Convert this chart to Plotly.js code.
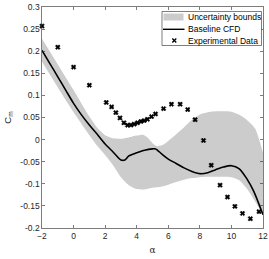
<!DOCTYPE html>
<html>
<head>
<meta charset="utf-8">
<script src="https://cdn.plot.ly/plotly-3.0.1.min.js"></script>
<style>html,body{margin:0;padding:0;background:#fff;}#chart{width:269px;height:259px;}</style>
</head>
<body>
<div id="chart"></div>
<script>
// Experimental data
const alphaExp = [-2, -1, 0, 1, 2.07, 2.41, 2.68, 2.94, 3.19, 3.42, 3.63, 3.84, 4.05, 4.27, 4.47, 4.68, 4.94, 5.19, 5.70, 6.20, 6.75, 7.23, 7.70, 8.23, 8.72, 9.28, 9.75, 10.22, 10.70, 11.20, 11.75];
const cmExp = [0.257, 0.209, 0.164, 0.123, 0.084, 0.074, 0.061, 0.049, 0.038, 0.0325, 0.033, 0.035, 0.038, 0.041, 0.043, 0.046, 0.052, 0.058, 0.070, 0.080, 0.080, 0.068, 0.045, -0.002, -0.058, -0.103, -0.130, -0.151, -0.167, -0.179, -0.163];

// Baseline CFD
const alphaCFD = [-2, -1.5, -1, -0.5, 0, 0.5, 1, 1.5, 2, 2.5, 3, 3.25, 3.5, 4, 4.5, 5, 5.2, 5.6, 6, 6.5, 7, 7.5, 8, 8.5, 9, 9.5, 10, 10.5, 11, 11.4, 12];
const cmCFD = [0.202, 0.172, 0.142, 0.112, 0.082, 0.056, 0.033, 0.012, -0.010, -0.028, -0.046, -0.046, -0.037, -0.030, -0.024, -0.021, -0.021, -0.033, -0.044, -0.054, -0.064, -0.072, -0.077, -0.075, -0.068, -0.062, -0.059, -0.066, -0.090, -0.116, -0.170];

// Uncertainty bounds
const alphaBand = [-2, -1, 0, 1, 1.5, 2, 2.5, 3, 3.5, 4, 4.4, 4.7, 5, 5.3, 5.6, 6, 6.5, 7, 7.5, 8, 8.5, 9, 9.5, 10, 10.5, 11, 11.5, 12];
const upperBand = [0.228, 0.170, 0.112, 0.052, 0.027, 0.010, 0.003, 0.002, 0.005, 0.009, 0.011, 0.004, -0.008, -0.015, -0.013, -0.003, 0.012, 0.028, 0.045, 0.057, 0.062, 0.064, 0.064, 0.063, 0.056, 0.044, 0.025, -0.030];
const lowerBand = [0.176, 0.118, 0.062, 0.010, -0.014, -0.035, -0.058, -0.085, -0.103, -0.112, -0.113, -0.111, -0.109, -0.108, -0.106, -0.102, -0.096, -0.091, -0.087, -0.085, -0.084, -0.084, -0.084, -0.085, -0.092, -0.112, -0.140, -0.170];

// Tick labels and legend texts
const xTicks = [-2, 0, 2, 4, 6, 8, 10, 12];
const yTicks = [-0.2, -0.15, -0.1, -0.05, 0, 0.05, 0.1, 0.15, 0.2, 0.25, 0.3];
const yTickText = ['-0.2', '-0.15', '-0.1', '-0.05', '0', '0.05', '0.1', '0.15', '0.2', '0.25', '0.3'];
const legendNames = ['Uncertainty bounds', 'Baseline CFD', 'Experimental Data'];

const axisColor = '#262626';
const bandColor = '#cccccc';
const font = {family: 'Liberation Sans, Arial, sans-serif', size: 8.5, color: axisColor};

const traces = [
  {x: alphaBand, y: upperBand, type: 'scatter', mode: 'lines', line: {width: 0, color: bandColor, shape: 'spline', smoothing: 0.6}, showlegend: false, hoverinfo: 'skip'},
  {x: alphaBand, y: lowerBand, type: 'scatter', mode: 'lines', fill: 'tonexty', fillcolor: bandColor, line: {width: 0, color: bandColor, shape: 'spline', smoothing: 0.6}, name: legendNames[0], showlegend: false},
  {x: alphaCFD, y: cmCFD, type: 'scatter', mode: 'lines', line: {color: '#000000', width: 1.6, shape: 'spline', smoothing: 0.8}, name: legendNames[1], showlegend: false},
  {x: alphaExp, y: cmExp, type: 'scatter', mode: 'markers', marker: {symbol: 'x', size: 4.2, color: '#000000', line: {width: 0.5, color: '#000000'}}, name: legendNames[2], showlegend: false, cliponaxis: false}
];

// Compact legend (paper coordinates)
const W = 269, H = 259, mL = 42, mR = 6, mT = 7, mB = 31;
const pw = W - mL - mR, ph = H - mT - mB;
const px = v => (v - mL) / pw;
const py = v => 1 - (v - mT) / ph;
const rowY = [17, 29.3, 40.5];
const shapes = [
  {type: 'rect', xref: 'paper', yref: 'paper', x0: px(162), x1: px(261.5), y0: py(11.5), y1: py(45.5), fillcolor: '#ffffff', line: {color: axisColor, width: 0.6}, layer: 'above'},
  {type: 'rect', xref: 'paper', yref: 'paper', x0: px(163.5), x1: px(183.5), y0: py(13.5), y1: py(20.5), fillcolor: bandColor, line: {width: 0}, layer: 'above'},
  {type: 'line', xref: 'paper', yref: 'paper', x0: px(163), x1: px(184.5), y0: py(rowY[1]), y1: py(rowY[1]), line: {color: '#000000', width: 1.4}, layer: 'above'},
  {type: 'line', xref: 'paper', yref: 'paper', x0: px(172.3), x1: px(176.3), y0: py(rowY[2] - 2), y1: py(rowY[2] + 2), line: {color: '#000000', width: 1.3}, layer: 'above'},
  {type: 'line', xref: 'paper', yref: 'paper', x0: px(172.3), x1: px(176.3), y0: py(rowY[2] + 2), y1: py(rowY[2] - 2), line: {color: '#000000', width: 1.3}, layer: 'above'}
];
const annotations = legendNames.map((t, i) => ({
  text: t, xref: 'paper', yref: 'paper', x: px(185.5), y: py(rowY[i]), xanchor: 'left', yanchor: 'middle',
  showarrow: false, font: {family: font.family, size: 8.5, color: '#000000'}
}));

const layout = {
  width: W, height: H,
  margin: {l: mL, r: mR, t: mT, b: mB},
  paper_bgcolor: '#ffffff', plot_bgcolor: '#ffffff',
  font: font,
  showlegend: false,
  shapes: shapes,
  annotations: annotations,
  xaxis: {range: [-2, 12], tickvals: xTicks, ticks: 'inside', ticklen: 3, tickcolor: axisColor, tickwidth: 0.6, showline: true, linecolor: axisColor, linewidth: 0.6, mirror: 'ticks', showgrid: false, zeroline: false, tickfont: font,
    title: {text: 'α', font: {family: 'DejaVu Serif, serif', size: 9, color: axisColor}, standoff: 6}},
  yaxis: {range: [-0.2, 0.3], tickvals: yTicks, ticktext: yTickText, ticks: 'inside', ticklen: 3, tickcolor: axisColor, tickwidth: 0.6, showline: true, linecolor: axisColor, linewidth: 0.6, mirror: 'ticks', showgrid: false, zeroline: false, tickfont: font,
    title: {text: 'C<sub>m</sub>', font: {family: font.family, size: 9.5, color: axisColor}, standoff: 6}}
};

Plotly.newPlot('chart', traces, layout, {staticPlot: true, displayModeBar: false});
</script>
</body>
</html>
